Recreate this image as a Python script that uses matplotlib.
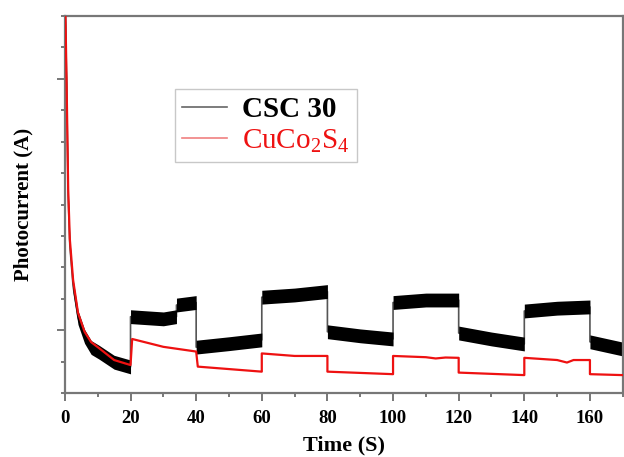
import matplotlib
matplotlib.use('Agg')
import matplotlib.pyplot as plt
from matplotlib.lines import Line2D
from matplotlib.ticker import MultipleLocator, FixedLocator, NullFormatter
import numpy as np

plt.rcParams['font.family'] = ['Liberation Serif', 'DejaVu Serif']
plt.rcParams['mathtext.fontset'] = 'custom'
plt.rcParams['mathtext.rm'] = 'Liberation Serif'

# csc 30 trace (time in s, photocurrent in arbitrary units)
csc_t = [0, 0.5, 1, 1.5, 2.5, 4, 6, 8, 10.4, 15,
         20, 20, 30, 34, 34, 40, 40, 50, 60, 60,
         70, 80, 80, 90, 100, 100, 110, 120, 120, 130,
         140, 140, 150, 160, 160, 170]
csc_i = [13, 10, 6.3, 4.7, 3.4, 2.4, 1.8, 1.45, 1.3, 0.98,
         0.83, 2.43, 2.36, 2.43, 2.8, 2.88, 1.46, 1.57, 1.69, 3.05,
         3.12, 3.23, 1.95, 1.82, 1.72, 2.88, 2.96, 2.96, 1.91, 1.72,
         1.56, 2.61, 2.7, 2.74, 1.63, 1.4]

# cuco2s4 trace
cco_t = [0, 0.5, 1, 1.5, 2.5, 4, 6, 8, 10.4, 15,
         20, 20.5, 30, 40, 40.5, 60, 60, 70, 80, 80,
         100, 100, 110, 113, 116, 120, 120, 140, 140, 150,
         153, 155, 160, 160, 170]
cco_i = [13, 10, 6.5, 4.9, 3.6, 2.55, 1.95, 1.62, 1.43, 1.05,
         0.89, 1.72, 1.47, 1.32, 0.84, 0.68, 1.26, 1.18, 1.18, 0.68,
         0.6, 1.18, 1.14, 1.1, 1.13, 1.12, 0.65, 0.57, 1.12, 1.05,
         0.97, 1.05, 1.05, 0.6, 0.57]

labels = ['CSC 30', 'CuCo$_2$S$_4$']

band = 0.22  # half thickness of the noisy black trace

fig = plt.figure(figsize=(6.24, 4.57), dpi=100)
ax = fig.add_axes([0.104, 0.140, 0.894, 0.825])

y = np.array(csc_i)
# thin line underneath shows the grey switching edges
ax.plot(csc_t, csc_i, color='#555555', lw=1.2, zorder=2)
ax.fill_between(csc_t, y - band, y + band, color='black', lw=0, zorder=2.5)
ax.plot(cco_t, cco_i, color='#ee1111', lw=1.6, zorder=3)

ax.set_xlim(0, 170)
ax.set_ylim(0, 12)

ax.xaxis.set_major_locator(MultipleLocator(20))
ax.xaxis.set_minor_locator(MultipleLocator(10))
ax.yaxis.set_major_locator(FixedLocator([2, 10]))
ax.yaxis.set_minor_locator(MultipleLocator(1))
ax.yaxis.set_major_formatter(NullFormatter())

for s in ax.spines.values():
    s.set_color('#777777')
    s.set_linewidth(1.6)
ax.tick_params(which='major', direction='out', length=6, width=1.4, color='#777777',
               labelsize=13.5, pad=6)
ax.tick_params(which='minor', direction='out', length=3, width=1.4, color='#777777')
for lab in ax.get_xticklabels():
    lab.set_fontweight('bold')

ax.set_xlabel('Time (S)', fontsize=16, fontweight='bold', labelpad=6)
ax.set_ylabel('Photocurrent (A)', fontsize=15, fontweight='bold')
ax.yaxis.set_label_coords(-0.057, 0.5)

handles = [Line2D([], [], color='#666666', lw=1.2),
           Line2D([], [], color='#f08080', lw=1.2)]
leg = ax.legend(handles, labels, loc='upper left', bbox_to_anchor=(0.197, 0.806),
                fontsize=21, frameon=True, fancybox=False, handlelength=1.55,
                handletextpad=0.5, labelspacing=0.12, borderpad=0.25,
                borderaxespad=0)
leg.get_frame().set_edgecolor('#bbbbbb')
leg.get_frame().set_linewidth(1.0)
texts = leg.get_texts()
texts[0].set_fontweight('bold')
texts[0].set_color('black')
texts[1].set_color('#ee1111')

fig.savefig('out.png', dpi=100)
